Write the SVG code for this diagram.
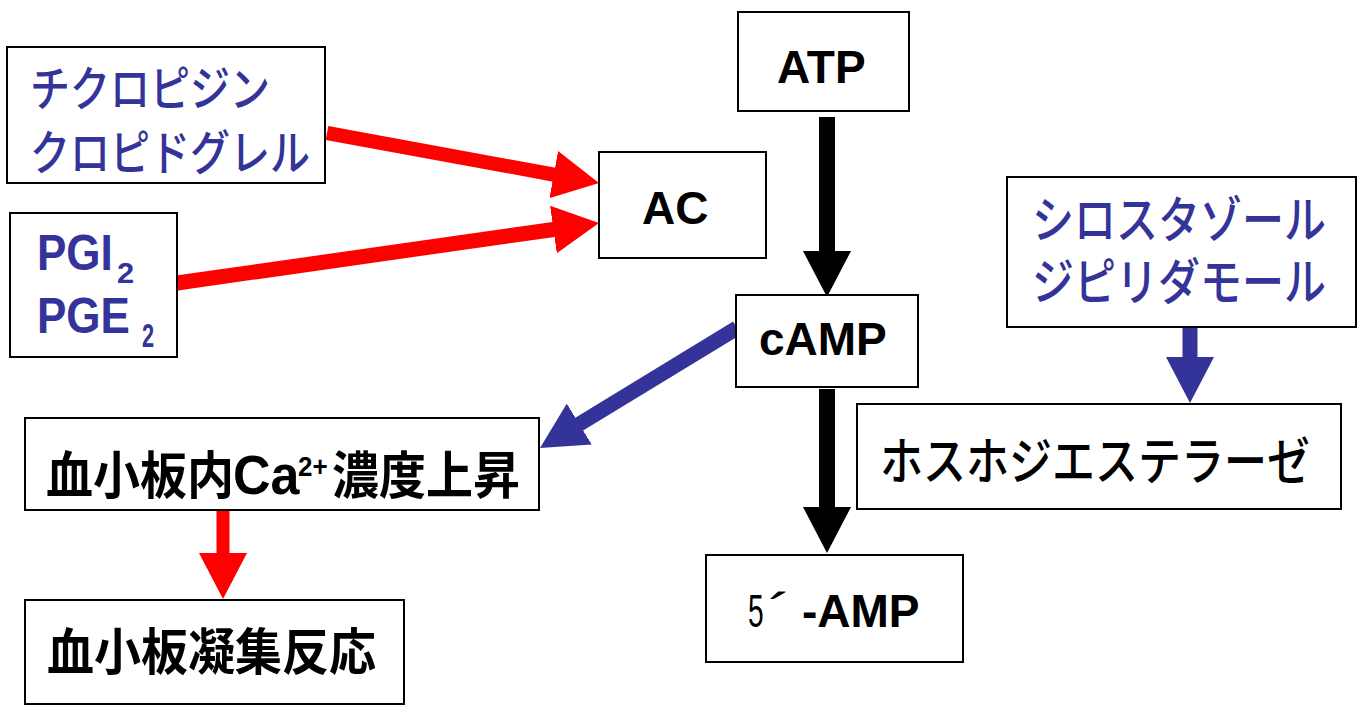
<svg xmlns="http://www.w3.org/2000/svg" width="1361" height="706" viewBox="0 0 1361 706">
<style>
.box{fill:#fff;stroke:#000;stroke-width:2}
.t{font-family:"Liberation Sans","Noto Sans CJK JP",sans-serif}
.b{font-weight:bold}
.m{font-weight:500}
.blue{fill:#333399}
.blk{fill:#000}
.red{stroke:#f00;fill:none}
.bk{stroke:#000;fill:none}
.bl{stroke:#333399;fill:none}
</style>
<defs>
<marker id="hr" markerUnits="userSpaceOnUse" markerWidth="46" markerHeight="48" viewBox="0 0 46 48" refX="2" refY="24" orient="auto"><path d="M0,0 L46,24 L0,48 z" fill="#f00"/></marker>
<marker id="hk" markerUnits="userSpaceOnUse" markerWidth="46" markerHeight="48" viewBox="0 0 46 48" refX="2" refY="24" orient="auto"><path d="M0,0 L46,24 L0,48 z" fill="#000"/></marker>
<marker id="hb" markerUnits="userSpaceOnUse" markerWidth="46" markerHeight="48" viewBox="0 0 46 48" refX="2" refY="24" orient="auto"><path d="M0,0 L46,24 L0,48 z" fill="#333399"/></marker>
</defs>
<rect width="1361" height="706" fill="#fff"/>
<g id="connectors">
<line class="red" x1="327" y1="133" x2="555.7" y2="175" stroke-width="14" marker-end="url(#hr)"/>
<line class="red" x1="177" y1="283" x2="555.4" y2="229.2" stroke-width="15" marker-end="url(#hr)"/>
<line class="bk" x1="827" y1="117" x2="827" y2="253" stroke-width="16" marker-end="url(#hk)"/>
<line class="bk" x1="827" y1="389" x2="827" y2="509" stroke-width="16" marker-end="url(#hk)"/>
<line class="bl" x1="1190" y1="328" x2="1190" y2="359" stroke-width="15" marker-end="url(#hb)"/>
<line class="bl" x1="737" y1="328" x2="577.6" y2="425.1" stroke-width="15" marker-end="url(#hb)"/>
<line class="red" x1="223" y1="510" x2="223" y2="555" stroke-width="13" marker-end="url(#hr)"/>
</g>
<g id="ticlopidine">
<rect class="box" x="7" y="47" width="318" height="136"/>
<text class="t m blue" font-size="40" transform="translate(30,106) scale(1,1.2)">チクロピジン</text>
<text class="t m blue" font-size="40" transform="translate(30,170) scale(1,1.2)">クロピドグレル</text>
</g>
<g id="pgi2">
<rect class="box" x="10" y="213" width="167" height="144"/>
<text class="t b blue" font-size="44" transform="translate(37,270) scale(1,1.15)">PGI</text>
<text class="t b blue" font-size="28" transform="translate(117,283) scale(1.1,1.05)">2</text>
<text class="t b blue" font-size="44" transform="translate(37,333) scale(1,1.15)">PGE</text>
<text class="t b blue" font-size="33" transform="translate(142,347) scale(0.66,1)">2</text>
</g>
<g id="ac">
<rect class="box" x="599" y="152" width="167" height="106"/>
<text class="t b blk" font-size="46" x="642" y="224">AC</text>
</g>
<g id="atp">
<rect class="box" x="738" y="12" width="171" height="99"/>
<text class="t b blk" font-size="46" x="777" y="83">ATP</text>
</g>
<g id="camp">
<rect class="box" x="736" y="295" width="182" height="92"/>
<text class="t b blk" font-size="46" x="759" y="355">cAMP</text>
</g>
<g id="cilostazol">
<rect class="box" x="1007" y="177" width="349" height="150"/>
<text class="t m blue" font-size="42" transform="translate(1032,238) scale(1,1.2)">シロスタゾール</text>
<text class="t m blue" font-size="42" transform="translate(1032,300) scale(1,1.2)">ジピリダモール</text>
</g>
<g id="pde">
<rect class="box" x="857" y="404" width="484" height="105"/>
<text class="t blk" font-weight="500" font-size="43" transform="translate(880,480) scale(1,1.18)">ホスホジエステラーゼ</text>
</g>
<g id="ca">
<rect class="box" x="25" y="418" width="514" height="92"/>
<text class="t b blk" font-size="47" transform="translate(0,494) scale(1,1.08)"><tspan x="46" y="0">血小板内</tspan><tspan x="233" font-size="52" y="0">Ca</tspan><tspan x="298" y="-17" font-size="26">2+</tspan><tspan x="332" y="0">濃度上昇</tspan></text>
</g>
<g id="aggregation">
<rect class="box" x="25" y="600" width="379" height="104"/>
<text class="t b blk" font-size="47" transform="translate(47,670) scale(1,1.06)">血小板凝集反応</text>
</g>
<g id="amp5">
<rect class="box" x="706" y="555" width="257" height="107"/>
<text class="t blk" font-size="47" transform="translate(748,627) scale(0.6,1)">5</text>
<text class="t blk" font-size="48" transform="translate(768,627) scale(1.5,1)">´</text>
<text class="t b blk" font-size="46" x="802" y="627">-AMP</text>
</g>
</svg>
